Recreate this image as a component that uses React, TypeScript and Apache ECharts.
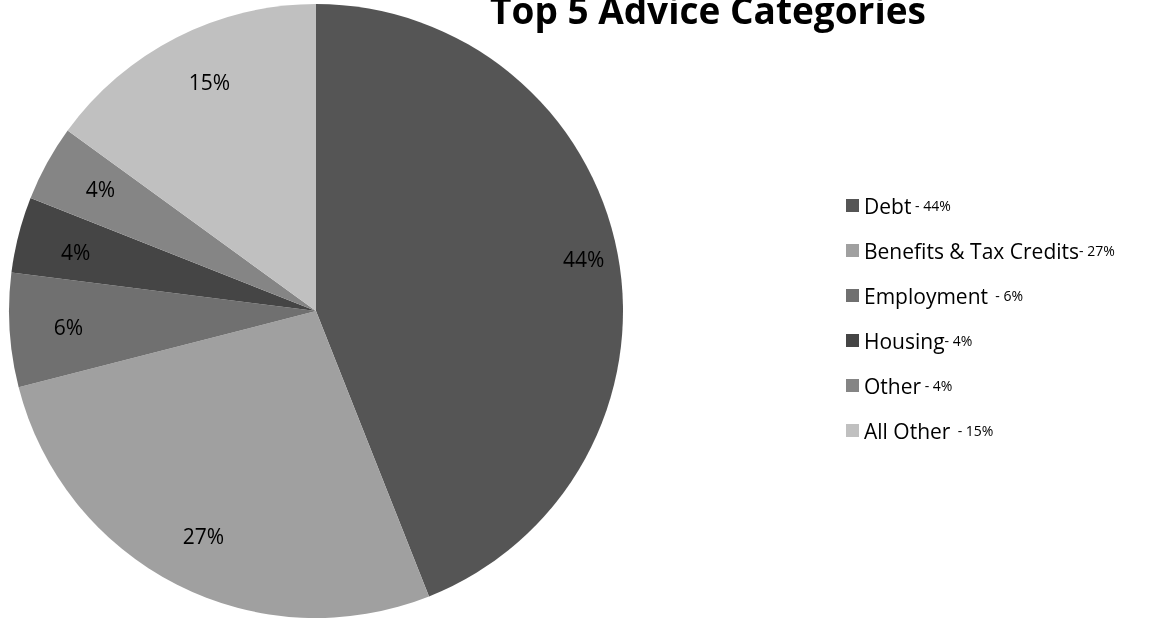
import React, { useEffect, useRef } from "react";
import * as echarts from "echarts";

const categories = ["Debt", "Benefits & Tax Credits", "Employment", "Housing", "Other", "All Other"];
const values = [44, 27, 6, 4, 4, 15];
const colors = ["#555555", "#a0a0a0", "#707070", "#454545", "#858585", "#c0c0c0"];
const legendSuffix = [" - 44%", "- 27%", "  - 6%", "- 4%", " - 4%", "  - 15%"];

const FONT = "'Open Sans', sans-serif";

// small label nudges (px) to mimic the original "inside end" placement
const labelNudge: Array<[number, number]> = [[26, -6], [-1, 6], [-2, 1], [-2, 2], [0, -3], [5, -10]];

export default function App() {
  const ref = useRef<HTMLDivElement>(null);
  useEffect(() => {
    if (!ref.current) return;
    const chart = echarts.init(ref.current, null, { renderer: "svg" });
    const data = categories.map((name, i) => ({ name, value: values[i], itemStyle: { color: colors[i] } }));
    chart.setOption({
      animation: false,
      textStyle: { fontFamily: FONT },
      title: {
        text: "Top 5 Advice Categories",
        left: 703,
        textAlign: "center",
        top: -14,
        textStyle: { fontFamily: FONT, fontWeight: "bold", fontSize: 37, color: "#000" },
      },
      legend: {
        orient: "vertical",
        left: 841,
        top: 190,
        icon: "rect",
        itemWidth: 13,
        itemHeight: 13,
        itemGap: 24,
        selectedMode: false,
        data: categories,
        formatter: (name: string) => {
          const i = categories.indexOf(name);
          return `{n|${name}}{p|${legendSuffix[i]}}`;
        },
        textStyle: {
          fontFamily: FONT,
          color: "#000",
          rich: {
            n: { fontSize: 21, lineHeight: 20, fontFamily: FONT, color: "#000" },
            p: { fontSize: 14, lineHeight: 20, fontFamily: FONT, color: "#000" },
          },
        },
      },
      series: [
        {
          type: "pie",
          center: [316, 311],
          radius: [0, 307],
          startAngle: 90,
          clockwise: true,
          silent: true,
          label: { show: false },
          labelLine: { show: false },
          itemStyle: { borderWidth: 0 },
          data,
        },
        {
          type: "pie",
          center: [316, 311],
          radius: [182, 304],
          startAngle: 90,
          clockwise: true,
          silent: true,
          itemStyle: { color: "rgba(0,0,0,0)", borderWidth: 0 },
          label: {
            show: true,
            position: "inside",
            formatter: "{c}%",
            fontFamily: FONT,
            fontSize: 21,
            color: "#000",
          },
          labelLayout: (p: any) => {
            const n = labelNudge[p.dataIndex] || [0, 0];
            return { dx: n[0], dy: n[1] };
          },
          labelLine: { show: false },
          data: categories.map((name, i) => ({ name, value: values[i] })),
        },
      ],
    });
    return () => chart.dispose();
  }, []);
  return <div ref={ref} style={{ position: "fixed", left: 0, top: 0, width: 1152, height: 620 }} />;
}
